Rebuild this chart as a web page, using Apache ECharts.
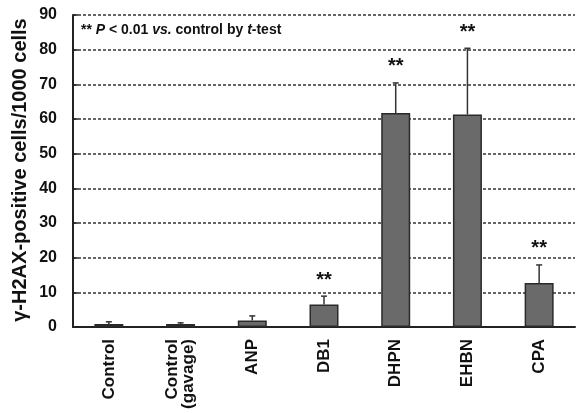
<!DOCTYPE html>
<html>
<head>
<meta charset="utf-8">
<script src="https://cdn.jsdelivr.net/npm/echarts@6/dist/echarts.min.js"></script>
<style>
  html, body { margin: 0; padding: 0; background: #fff; }
  #chart { width: 576px; height: 413px; }
</style>
</head>
<body>
<div id="chart"></div>
<script>
// Treatment groups
const categories = ['Control', 'Control\n(gavage)', 'ANP', 'DB1', 'DHPN', 'EHBN', 'CPA'];
// Mean γ-H2AX-positive cells per 1000 cells
const means = [0.9, 0.9, 1.9, 6.5, 61.7, 61.3, 12.7];
// Upper end of each error bar (mean + SD)
const errorTops = [1.5, 1.2, 3.2, 8.9, 70.4, 80.4, 17.9];
// Significance markers (P < 0.01 vs. control)
const significance = ['', '', '', '**', '**', '**', '**'];
// Y axis ticks
const yTicks = [0, 10, 20, 30, 40, 50, 60, 70, 80, 90];

const FONT = '"Liberation Sans", Arial, sans-serif';
const chart = echarts.init(document.getElementById('chart'));

const errorData = categories.map((c, i) => [i, means[i], errorTops[i], significance[i]]);

chart.setOption({
  animation: false,
  backgroundColor: '#fff',
  grid: { left: 73, right: 1, top: 15, bottom: 86 },
  xAxis: {
    type: 'category',
    data: categories,
    axisLine: { lineStyle: { color: '#222', width: 2 } },
    axisTick: { inside: true, length: 5, lineStyle: { color: '#222', width: 2 } },
    axisLabel: {
      rotate: 90,
      margin: 12,
      color: '#111',
      fontFamily: FONT,
      fontWeight: 'bold',
      fontSize: 17,
      lineHeight: 16
    }
  },
  yAxis: {
    type: 'value',
    min: yTicks[0],
    max: yTicks[yTicks.length - 1],
    interval: 10,
    axisLine: { show: true, lineStyle: { color: '#222', width: 2 } },
    axisTick: { show: true, inside: true, length: 5, lineStyle: { color: '#222', width: 1.5 } },
    axisLabel: { color: '#111', fontFamily: FONT, fontWeight: 'bold', fontSize: 16, margin: 16 },
    splitLine: { show: true, lineStyle: { color: '#333', type: [3, 2], width: 1.5 } }
  },
  graphic: [
    {
      // Y axis title
      type: 'text',
      x: 20,
      y: 170,
      rotation: Math.PI / 2,
      style: {
        text: 'γ-H2AX-positive cells/1000 cells',
        align: 'center',
        verticalAlign: 'middle',
        fontFamily: FONT,
        fontWeight: 'bold',
        fontSize: 20,
        fill: '#111'
      }
    },
    {
      type: 'text',
      left: 81,
      top: 23,
      style: {
        text: '{b|** }{i|P}{b| < 0.01 }{i|vs.}{b| control by }{i|t}{b|-test}',
        rich: {
          b: { fontFamily: FONT, fontWeight: 'bold', fontSize: 14, fill: '#111' },
          i: { fontFamily: FONT, fontWeight: 'bold', fontStyle: 'italic', fontSize: 14, fill: '#111' }
        }
      }
    }
  ],
  series: [
    {
      type: 'bar',
      data: means,
      barWidth: 29,
      itemStyle: { color: '#6a6a6a', borderColor: '#2a2a2a', borderWidth: 1.5 },
      z: 2
    },
    {
      type: 'custom',
      data: errorData,
      z: 3,
      renderItem: function (params, api) {
        const i = api.value(0);
        const base = api.coord([i, api.value(1)]);
        const top = api.coord([i, api.value(2)]);
        const cap = 3;
        const children = [
          { type: 'line', shape: { x1: base[0], y1: base[1], x2: top[0], y2: top[1] },
            style: { stroke: '#333', lineWidth: 1.5 } },
          { type: 'line', shape: { x1: top[0] - cap, y1: top[1], x2: top[0] + cap, y2: top[1] },
            style: { stroke: '#333', lineWidth: 1.5 } }
        ];
        const mark = significance[i];
        if (mark) {
          children.push({
            type: 'text',
            style: {
              text: mark,
              x: top[0],
              y: top[1] - 6,
              align: 'center',
              verticalAlign: 'bottom',
              fontFamily: FONT,
              fontWeight: 'bold',
              fontSize: 20,
              fill: '#111'
            }
          });
        }
        return { type: 'group', children: children };
      }
    }
  ]
});
</script>
</body>
</html>
